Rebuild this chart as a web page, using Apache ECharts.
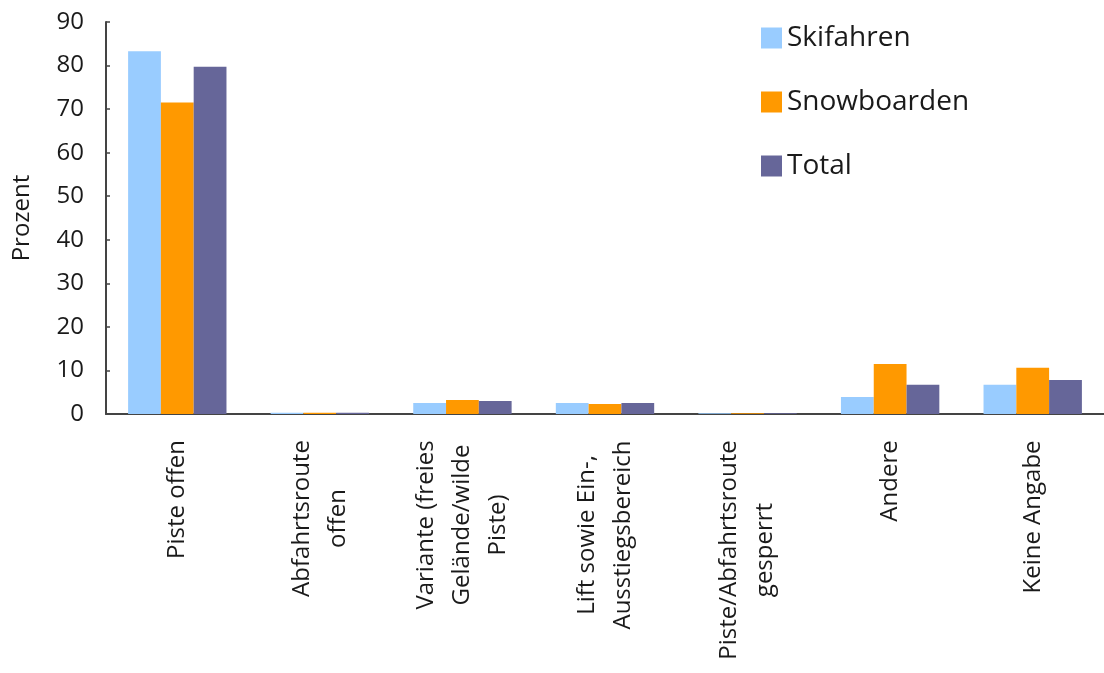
<!DOCTYPE html>
<html>
<head>
<meta charset="utf-8">
<script src="https://cdn.jsdelivr.net/npm/echarts@6/dist/echarts.min.js"></script>
<style>html,body{margin:0;padding:0;background:#fff}#c{width:1104px;height:673px}</style>
</head>
<body>
<div id="c"></div>
<script>
const categories = [
  "Piste offen",
  "Abfahrtsroute\noffen",
  "Variante (freies\nGelände/wilde\nPiste)",
  "Lift sowie Ein-,\nAusstiegsbereich",
  "Piste/Abfahrtsroute\ngesperrt",
  "Andere",
  "Keine Angabe"
];
const skifahren   = [83.3, 0.3, 2.5, 2.5, 0.2, 3.9, 6.7];
const snowboarden = [71.5, 0.3, 3.2, 2.3, 0.2, 11.5, 10.6];
const total       = [79.7, 0.3, 3.0, 2.5, 0.2, 6.7, 7.8];
const yTicks = [0, 10, 20, 30, 40, 50, 60, 70, 80, 90];
const seriesNames = ["Skifahren", "Snowboarden", "Total"];

const FONT = "Open Sans";
const XFS = 24;
const ctx = document.createElement('canvas').getContext('2d');
ctx.font = XFS + 'px "' + FONT + '"';
function blockWidth(s) {
  return Math.max.apply(null, s.split('\n').map(l => ctx.measureText(l).width));
}
const xData = categories.map(c => ({
  value: c,
  textStyle: {align: 'center', padding: [0, Math.ceil(blockWidth(c)), 0, 0]}
}));

const chart = echarts.init(document.getElementById('c'), null, {renderer: 'canvas'});
chart.setOption({
  animation: false,
  backgroundColor: '#fff',
  textStyle: {fontFamily: FONT, color: '#1a1a1a'},
  grid: {left: 106, right: 0, top: 22, bottom: 259, containLabel: false},
  legend: {
    orient: 'vertical', left: 761, top: 24, padding: 0,
    itemWidth: 21, itemHeight: 21, itemGap: 36,
    icon: 'rect',
    textStyle: {fontFamily: FONT, fontSize: 28, lineHeight: 28, color: '#1a1a1a'},
    data: seriesNames
  },
  xAxis: {
    type: 'category',
    data: xData,
    axisLine: {lineStyle: {color: '#444', width: 2}},
    axisTick: {show: false},
    axisLabel: {
      rotate: 90, interval: 0, margin: 26,
      fontFamily: FONT, fontSize: XFS, lineHeight: 36, color: '#1a1a1a'
    }
  },
  yAxis: {
    type: 'value', min: yTicks[0], max: yTicks[yTicks.length - 1], interval: 10,
    name: 'Prozent', nameLocation: 'middle', nameGap: 72, nameRotate: 90,
    nameTextStyle: {fontFamily: FONT, fontSize: 24, color: '#1a1a1a'},
    axisLine: {show: true, lineStyle: {color: '#444', width: 2}},
    axisTick: {show: true, inside: true, length: 4, lineStyle: {color: '#444', width: 1.5}},
    splitLine: {show: false},
    axisLabel: {fontFamily: FONT, fontSize: 24, color: '#1a1a1a', margin: 22}
  },
  series: [
    {name: seriesNames[0], type: 'bar', data: skifahren, itemStyle: {color: '#99CCFF'}, barGap: '0%', barCategoryGap: '31%'},
    {name: seriesNames[1], type: 'bar', data: snowboarden, itemStyle: {color: '#FF9900'}, barGap: '0%', barCategoryGap: '31%'},
    {name: seriesNames[2], type: 'bar', data: total, itemStyle: {color: '#666699'}, barGap: '0%', barCategoryGap: '31%'}
  ]
});
</script>
</body>
</html>
